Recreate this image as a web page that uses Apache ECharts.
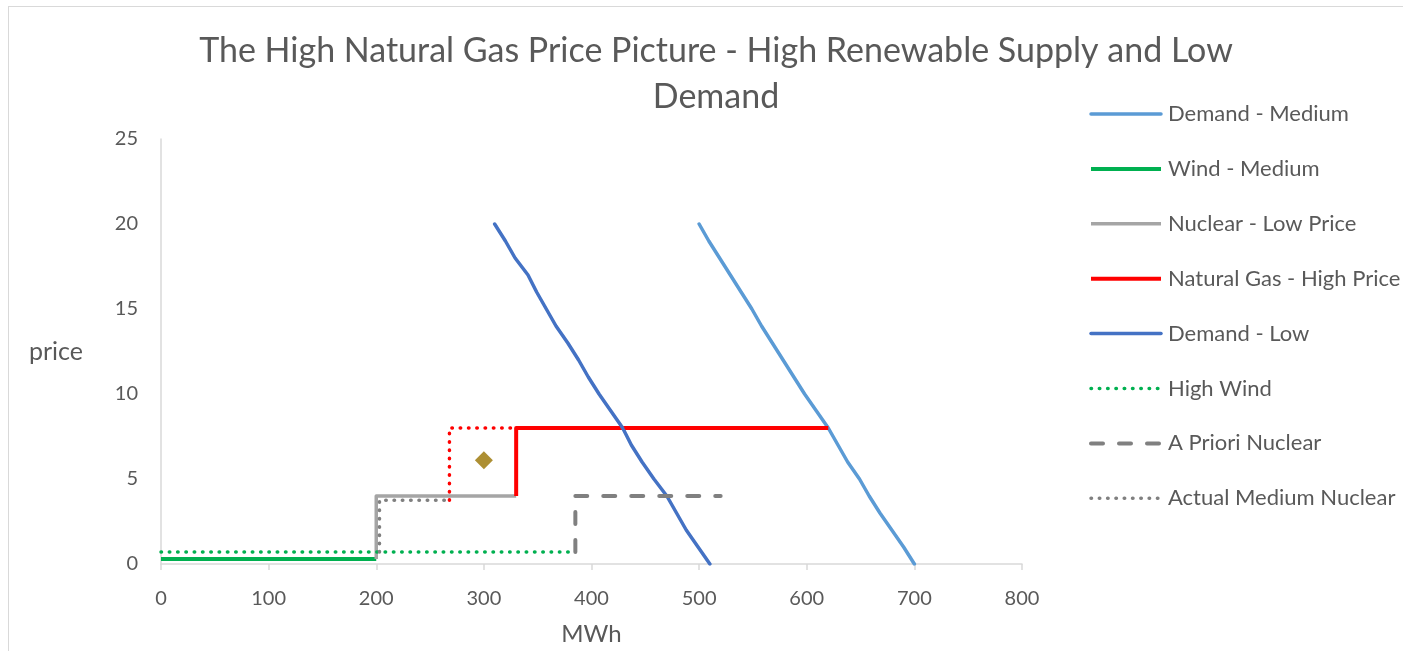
<!DOCTYPE html>
<html>
<head>
<meta charset="utf-8">
<script src="https://cdn.jsdelivr.net/npm/echarts@6/dist/echarts.min.js"></script>
<style>
html,body{margin:0;padding:0;background:#fff;overflow:hidden;}
#frame{position:absolute;left:8px;top:6px;width:1500px;height:800px;border:1.5px solid #d9d9d9;box-sizing:border-box;}
#chart{position:absolute;left:0;top:0;width:1403px;height:651px;}
</style>
</head>
<body>
<div id="frame"></div>
<div id="chart"></div>
<script>
// ---- data ----
const titleText = 'The High Natural Gas Price Picture - High Renewable Supply and Low\nDemand';
const xTicks = [0, 100, 200, 300, 400, 500, 600, 700, 800];
const yTicks = [0, 5, 10, 15, 20, 25];
const demandPrice = [20,19,18,17,16,15,14,13,12,11,10,9,8,7,6,5,4,3,2,1,0];
const demandMediumQty = [500,509,519,529,539,549,558,568,578,588,598,609,620,629,638,649,658,668,679,690,700];
const demandLowQty = [310,320,329,341,349,358,367,378,388,397,407,418,429,437,447,458,470,479,488,499,510];
const windMediumX = [0, 200];
const windMediumY = [0.3, 0.3];
const nuclearLowX = [200, 200, 330];
const nuclearLowY = [0.3, 4, 4];
const gasHighX = [330, 330, 620];
const gasHighY = [4, 8, 8];
const highWindX = [0, 385];
const highWindY = [0.7, 0.7];
const aprioriNuclearX = [385, 385, 520];
const aprioriNuclearY = [0.7, 4, 4];
const actualNuclearX = [203, 203, 268];
const actualNuclearY = [0.7, 3.75, 3.75];
const gasActualX = [268, 268, 620];
const gasActualY = [3.75, 8, 8];
const pointX = [300];
const pointY = [6.1];
const legendNames = ['Demand - Medium','Wind - Medium','Nuclear - Low Price','Natural Gas - High Price','Demand - Low','High Wind','A Priori Nuclear','Actual Medium Nuclear'];

const zip = (xs, ys) => xs.map((x, i) => [x, ys[i]]);
const FONT = 'Lato';
const TXT = '#595959';
const dot = [0.5, 7.8];

function lineSeries(name, data, color, width, type, cap) {
  return {
    name: name, type: 'line', data: data, symbol: 'none', smooth: false,
    lineStyle: { color: color, width: width, type: type || 'solid', cap: cap || 'butt', join: 'round' },
    itemStyle: { color: color },
    emphasis: { disabled: true }, animation: false
  };
}

const chart = echarts.init(document.getElementById('chart'), null, { renderer: 'canvas' });
chart.setOption({
  backgroundColor: 'transparent',
  animation: false,
  title: {
    text: titleText, left: 711, top: 23, textAlign: 'center',
    textStyle: { fontFamily: FONT, fontSize: 34, fontWeight: 'normal', color: TXT, lineHeight: 46 }
  },
  legend: {
    data: legendNames, orient: 'vertical', left: 1089, top: 103, padding: 0,
    itemWidth: 70, itemHeight: 14, itemGap: 32.9,
    itemStyle: { opacity: 0 },
    lineStyle: { width: 'inherit' },
    textStyle: { fontFamily: FONT, fontSize: 22, color: TXT, padding: [0, 0, 0, 2] },
    selectedMode: false
  },
  grid: { left: 161, top: 139, right: 381, bottom: 80, containLabel: false },
  xAxis: {
    type: 'value', min: xTicks[0], max: xTicks[xTicks.length - 1], interval: 100,
    name: 'MWh', nameLocation: 'middle', nameGap: 58,
    nameTextStyle: { fontFamily: FONT, fontSize: 24, color: TXT },
    axisLine: { show: true, lineStyle: { color: '#d9d9d9', width: 1.5 } },
    axisTick: { show: true, length: 6, lineStyle: { color: '#d9d9d9', width: 1.5 } },
    axisLabel: { fontFamily: FONT, fontSize: 20, color: TXT, margin: 25 },
    splitLine: { show: false }
  },
  yAxis: {
    type: 'value', min: yTicks[0], max: yTicks[yTicks.length - 1], interval: 5,
    name: 'price', nameLocation: 'middle', nameRotate: 0, nameGap: 78,
    nameTextStyle: { fontFamily: FONT, fontSize: 25, color: TXT },
    axisLine: { show: true, lineStyle: { color: '#d9d9d9', width: 1.5 } },
    axisTick: { show: false },
    axisLabel: { fontFamily: FONT, fontSize: 20, color: TXT, margin: 23 },
    splitLine: { show: false }
  },
  series: [
    lineSeries('Demand - Medium', zip(demandMediumQty, demandPrice), '#5B9BD5', 3.5, 'solid', 'round'),
    lineSeries('Wind - Medium', zip(windMediumX, windMediumY), '#00B050', 4),
    lineSeries('Nuclear - Low Price', zip(nuclearLowX, nuclearLowY), '#A5A5A5', 3.5),
    lineSeries('Natural Gas - High Price', zip(gasHighX, gasHighY), '#FF0000', 4),
    lineSeries('Demand - Low', zip(demandLowQty, demandPrice), '#4472C4', 3.5, 'solid', 'round'),
    lineSeries('High Wind', zip(highWindX, highWindY), '#00B050', 3.5, dot, 'round'),
    lineSeries('A Priori Nuclear', zip(aprioriNuclearX, aprioriNuclearY), '#808080', 4, [12, 16], 'round'),
    lineSeries('Actual Medium Nuclear', zip(actualNuclearX, actualNuclearY), '#808080', 3.5, dot, 'round'),
    lineSeries('Natural Gas - Actual', zip(gasActualX, gasActualY), '#FF0000', 3.5, dot, 'round'),
    {
      name: 'Point', type: 'scatter', data: zip(pointX, pointY), symbol: 'diamond', symbolSize: 18,
      itemStyle: { color: '#997300' }, emphasis: { disabled: true }, animation: false
    }
  ]
});
</script>
</body>
</html>
